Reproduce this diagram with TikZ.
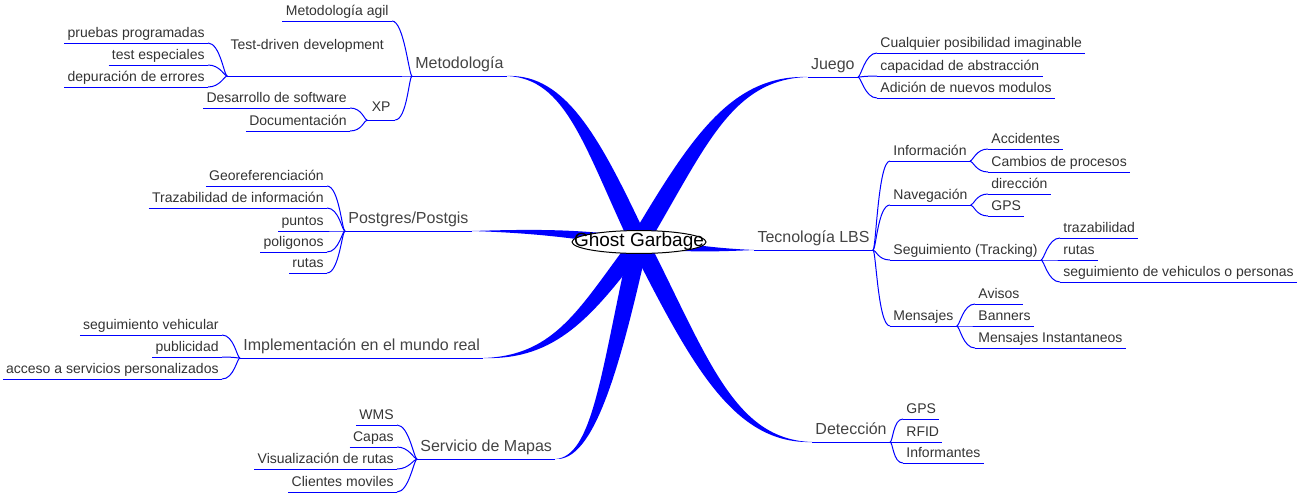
\documentclass[tikz,border=0pt]{standalone}
\usepackage{fontspec}
\setmainfont{Liberation Sans}
\usetikzlibrary{calc,shapes.geometric}
\definecolor{branch}{HTML}{0000FF}
\definecolor{leaftext}{HTML}{333333}
\definecolor{maintext}{HTML}{444444}

\begin{document}
\begin{tikzpicture}[
    x=0.5pt, y=-0.5pt,
    link/.style={draw=branch, line width=0.5pt},
    trunk/.style={fill=branch, draw=none},
    underlined/.style={append after command={(\tikzlastnode.south west) edge[link] (\tikzlastnode.south east)}},
    leaf/.style={underlined, font=\fontsize{7pt}{8.5pt}\selectfont, text=leaftext,
      inner xsep=1.5pt, inner ysep=1pt, text height=5.3pt, text depth=1.7pt},
    leafR/.style={leaf, anchor=south west},
    leafL/.style={leaf, anchor=south east},
    topic/.style={underlined, font=\fontsize{8pt}{9.5pt}\selectfont, text=maintext,
      inner xsep=1.5pt, inner ysep=1.5pt, text height=6pt, text depth=2pt},
    topicR/.style={topic, anchor=south east},
    topicL/.style={topic, anchor=south west},
    rootnode/.style={ellipse, draw=black, line width=0.5pt, fill=white,
      inner xsep=-8.8pt, inner ysep=-0.4pt, text height=6.9pt, text depth=2pt,
      font=\fontsize{9.5pt}{11pt}\selectfont}
]
\useasboundingbox (0,0) rectangle (1299,493);

\coordinate (R) at (639,242);

% Main topics
\node[topicL] (metodo)   at (412,76)  {Metodología};
\node[topicL] (postgres) at (345,231) {Postgres/Postgis};
\node[topicL] (impl)     at (240,358) {Implementación en el mundo real};
\node[topicL] (mapas)    at (417,459) {Servicio de Mapas};
\node[topicR] (juego)    at (858,77)  {Juego};
\node[topicR] (lbs)      at (873,250) {Tecnología LBS};
\node[topicR] (detec)    at (890,442) {Detección};

% Metodologia
\node[leafL] (agil) at (392,21) {Metodología agil};
\node[leafL, text width=83pt, align=left, text depth=12.2pt] (tdd) at (400,76) {Test-driven development};
\node[leafL, minimum width=13.5pt, text depth=3pt] (xp) at (395,120) {XP};
\node[leafL] (prog) at (208,43) {pruebas programadas};
\node[leafL] (espe) at (208,65) {test especiales};
\node[leafL] (depu) at (208,87) {depuración de errores};
\node[leafL] (soft) at (350,108) {Desarrollo de software};
\node[leafL] (docu) at (350,131) {Documentación};
\foreach \c in {agil,tdd,xp}
  \draw[link] (metodo.south west) .. controls +(-3,0) and +(12,0) .. (\c.south east);
\foreach \c in {prog,espe,depu}
  \draw[link] (tdd.south west) .. controls +(-3,0) and +(12,0) .. (\c.south east);
\foreach \c in {soft,docu}
  \draw[link] (xp.south west) .. controls +(-3,0) and +(12,0) .. (\c.south east);

% Postgres/Postgis
\node[leafL] (geo)  at (327,186) {Georeferenciación};
\node[leafL] (traz) at (327,208) {Trazabilidad de información};
\node[leafL] (punt) at (327,231) {puntos};
\node[leafL] (poli) at (327,252) {poligonos};
\node[leafL] (ruta) at (327,273) {rutas};
\foreach \c in {geo,traz,punt,poli,ruta}
  \draw[link] (postgres.south west) .. controls +(-3,0) and +(12,0) .. (\c.south east);

% Implementacion
\node[leafL] (vehi) at (222,335) {seguimiento vehicular};
\node[leafL] (publ) at (222,357) {publicidad};
\node[leafL] (acce) at (222,379) {acceso a servicios personalizados};
\foreach \c in {vehi,publ,acce}
  \draw[link] (impl.south west) .. controls +(-3,0) and +(12,0) .. (\c.south east);

% Servicio de Mapas
\node[leafL] (wms)  at (397,425) {WMS};
\node[leafL] (capa) at (397,447) {Capas};
\node[leafL] (visu) at (397,469) {Visualización de rutas};
\node[leafL] (clie) at (397,492) {Clientes moviles};
\foreach \c in {wms,capa,visu,clie}
  \draw[link] (mapas.south west) .. controls +(-3,0) and +(12,0) .. (\c.south east);

% Juego
\node[leafR] (posi) at (877,53) {Cualquier posibilidad imaginable};
\node[leafR] (abst) at (877,76) {capacidad de abstracción};
\node[leafR] (modu) at (877,98) {Adición de nuevos modulos};
\foreach \c in {posi,abst,modu}
  \draw[link] (juego.south east) .. controls +(3,0) and +(-12,0) .. (\c.south west);

% Tecnologia LBS
\node[leafR] (info)  at (890,161) {Información};
\node[leafR] (nave)  at (890,205) {Navegación};
\node[leafR] (segui) at (890,260) {Seguimiento (Tracking)};
\node[leafR] (mens)  at (890,326) {Mensajes};
\node[leafR] (acci) at (988,149) {Accidentes};
\node[leafR] (camb) at (988,172) {Cambios de procesos};
\node[leafR] (dire) at (988,194) {dirección};
\node[leafR] (gpsn) at (988,216) {GPS};
\node[leafR] (trzb) at (1060,238) {trazabilidad};
\node[leafR] (ruts) at (1060,260) {rutas};
\node[leafR] (segv) at (1060,282) {seguimiento de vehiculos o personas};
\node[leafR] (avis) at (975,304) {Avisos};
\node[leafR] (bann) at (975,326) {Banners};
\node[leafR] (inst) at (975,348) {Mensajes Instantaneos};
\foreach \c in {info,nave,segui,mens}
  \draw[link] (lbs.south east) .. controls +(3,0) and +(-12,0) .. (\c.south west);
\foreach \p/\cs in {info/{acci,camb}, nave/{dire,gpsn}, segui/{trzb,ruts,segv}, mens/{avis,bann,inst}}
  \foreach \c in \cs
    \draw[link] (\p.south east) .. controls +(3,0) and +(-12,0) .. (\c.south west);

% Deteccion
\node[leafR] (gpsd) at (903,419) {GPS};
\node[leafR] (rfid) at (903,442) {RFID};
\node[leafR] (info2) at (903,463) {Informantes};
\foreach \c in {gpsd,rfid,info2}
  \draw[link] (detec.south east) .. controls +(3,0) and +(-10,0) .. (\c.south west);

% Control points of the tapered branches
\coordinate (metodo-a)   at (592,142); \coordinate (metodo-b)   at (566,76);
\coordinate (juego-a)    at (698,143); \coordinate (juego-b)    at (731,77);
\coordinate (postgres-a) at (581,235); \coordinate (postgres-b) at (548,231);
\coordinate (lbs-a)      at (679,247); \coordinate (lbs-b)      at (701,250);
\coordinate (impl-a)     at (586,312); \coordinate (impl-b)     at (556,358);
\coordinate (mapas-a)    at (610,372); \coordinate (mapas-b)    at (593,459);
\coordinate (detec-a)    at (700,362); \coordinate (detec-b)    at (734,442);

% Tapered branches from the root
\foreach \n/\s/\w in {metodo/south east/4.5pt, juego/south west/4.5pt,
    postgres/south east/2.5pt, lbs/south west/2.5pt, impl/south east/4pt,
    mapas/south east/4.5pt, detec/south west/4.5pt}
  \fill[trunk] ($(R)!\w!90:(\n-a)$) .. controls ($(\n-a)!\w!-90:(R)$) and ($(\n-b)!1.2pt!90:(\n.\s)$) .. (\n.\s)
    .. controls ($(\n-b)!1.2pt!-90:(\n.\s)$) and ($(\n-a)!\w!90:(R)$) .. ($(R)!\w!-90:(\n-a)$) -- cycle;

% Root
\node[rootnode] (root) at (R) {Ghost Garbage};

\end{tikzpicture}
\end{document}
